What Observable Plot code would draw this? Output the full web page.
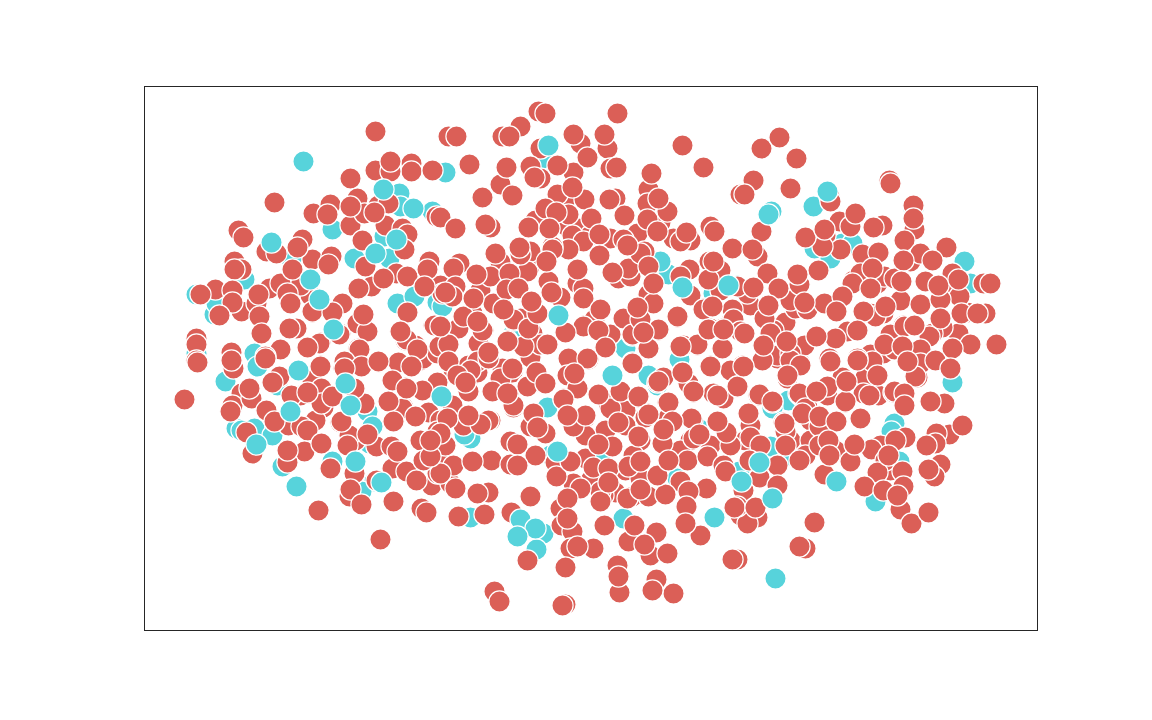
<!DOCTYPE html>
<html><head><meta charset="utf-8">
<script src="https://cdn.jsdelivr.net/npm/d3@7"></script>
<script src="https://cdn.jsdelivr.net/npm/@observablehq/plot@0.6"></script>
<style>html,body{margin:0;padding:0;background:#fff}svg{display:block}</style>
</head><body><div id="chart"></div>
<script>
const tealUnder = [[196,294],[214,314],[216,303],[244,279],[254,353],[196,353],[332,229],[291,259],[389,258],[354,258],[384,236],[399,193],[400,206],[432,211],[397,303],[414,296],[437,302],[225,381],[277,385],[257,366],[367,411],[372,426],[369,443],[236,428],[241,430],[254,428],[272,435],[282,466],[332,461],[374,481],[361,491],[542,158],[445,172],[513,333],[713,293],[668,274],[660,261],[625,348],[679,359],[442,306],[648,375],[657,385],[547,407],[470,438],[464,434],[698,428],[550,455],[600,458],[677,478],[470,517],[623,518],[543,533],[536,549],[771,211],[813,206],[913,209],[814,248],[842,243],[852,243],[830,258],[964,261],[970,283],[737,285],[952,382],[788,400],[772,408],[894,423],[891,431],[770,446],[790,455],[899,461],[739,471],[875,501]];
const redFill = [
[333,312],[312,312],[340,333],[308,347],[320,342],[358,348],[378,362],[320,365],[345,362],[343,368],[360,366],[312,380],[322,388],[332,396],[307,393],[364,403],[323,407],[340,422],[392,380],[388,401],[405,387],[403,407],[393,421],[415,416],[410,365],[420,360],[398,362],[400,331],[405,340],[415,345],[418,350],[423,358],[433,325],[458,328],[448,345],[442,347],[448,362],[453,370],[437,353],[467,382],[468,365],[477,372],[437,382],[422,390],[428,412],[440,420],[452,405],[468,415],[482,423],[490,420],[492,391],[508,393],[513,407],[502,368],[512,372],[500,378],[527,385],[536,372],[543,383],[483,330],[472,313],[503,310],[513,320],[488,353],[478,342],[507,340],[525,345],[540,343],[532,333],[532,305],[520,318],[530,357],
[637,307],[650,303],[677,317],[703,308],[644,332],[632,335],[658,330],[648,348],[632,362],[594,320],[599,330],[605,347],[583,325],[600,310],[565,332],[732,318],[742,332],[722,328],[710,328],[697,345],[722,348],[710,365],[742,365],[732,370],[683,345],[682,372],[688,383],[693,392],[657,382],[663,377],[667,402],[737,387],[723,398],[713,393],[758,395],[772,402],[784,422],[748,413],[763,345],[785,340],[785,322],[767,307],[792,358],[777,358],[773,330],[795,308],[787,375],[800,395],[573,373],[588,359],[570,360],[577,388],[563,398],[567,416],[598,394],[620,392],[638,397],[608,403],[618,422],[585,417],[625,410],[648,413],[645,417],[663,422],[668,417],[692,420],[717,422],[750,423],
[853,280],[950,293],[967,312],[883,313],[900,300],[903,325],[958,333],[933,333],[922,358],[908,360],[800,363],[872,355],[883,353],[777,355],[865,377],[842,377],[798,393],[827,395],[845,402],[867,395],[878,395],[893,392],[917,377],[863,393],[787,378],[807,407],[810,420],[783,422],
[607,480],[625,470],[640,478],[615,492],[603,495],[590,480],[555,462],[640,440],[625,425],[605,430],[585,435],[690,440],[680,450],[710,445],[745,440],[730,445],[790,440],[810,440],[805,455],[835,450],[890,470],[880,445],
[535,220],[565,225],[578,228],[590,235],[660,222],[690,240],[720,270],[790,300],[750,305],[720,290],[690,295],[480,290],[500,262],[530,265],[440,285],[310,295],[300,285],[300,395],[315,420],[355,440],[445,465],[420,440],[385,225],[378,205],[350,225]
];
const red = [
[375,131],[411,163],[411,171],[375,170],[432,170],[390,171],[350,178],[274,202],[238,230],[313,213],[330,204],[357,198],[364,213],[436,216],[402,228],[407,234],[404,249],[362,240],[302,239],[266,251],[276,253],[234,261],[241,269],[312,259],[331,256],[396,273],[407,276],[429,261],[371,286],[215,289],[241,311],[256,303],[269,288],[280,283],[287,293],[259,316],[312,311],[342,303],[357,323],[367,331],[434,325],[442,293],[296,328],[406,339],[417,349],[196,338],[196,344],[280,349],[319,343],[359,349],[344,361],[377,361],[339,334],[439,346],
[279,376],[241,393],[232,405],[230,411],[251,398],[288,425],[301,426],[307,430],[291,395],[321,388],[321,403],[320,366],[361,366],[378,361],[392,380],[411,366],[402,408],[364,403],[354,388],[349,435],[347,445],[376,446],[304,451],[252,453],[246,432],[354,473],[349,496],[421,508],[391,446],[392,468],[406,471],[431,485],[437,473],[423,460],[437,431],[376,480],
[538,111],[448,136],[502,136],[520,126],[580,143],[607,148],[540,148],[540,178],[530,166],[573,172],[610,168],[500,184],[512,195],[566,198],[557,194],[584,199],[648,189],[647,203],[667,211],[615,198],[440,217],[490,227],[545,208],[568,214],[528,227],[572,235],[610,238],[583,241],[568,249],[637,233],[647,219],[623,239],[644,251],[673,238],[680,241],[710,226],[732,248],[495,253],[530,251],[552,246],[527,271],[520,254],[459,263],[453,268],[490,276],[455,286],[452,296],[493,303],[513,319],[560,297],[548,281],[577,283],[583,288],[618,278],[630,276],[628,268],[640,253],[648,294],[653,303],[689,269],[680,276],[709,261],[708,279],[703,309],[677,316],[594,319],[583,326],[610,334],[623,318],[632,334],[658,329],[648,348],[640,319],[565,332],[540,344],[523,346],[528,328],[537,313],[507,341],[478,343],[458,328],[463,316],[448,344],[440,326],[568,358],[587,358],[697,344],[708,329],[732,309],[733,319],[740,331],[680,346],
[448,361],[477,361],[488,358],[470,370],[457,375],[468,391],[512,368],[513,405],[527,386],[567,375],[577,388],[573,426],[530,426],[545,433],[533,413],[585,415],[610,408],[668,402],[658,381],[632,363],[688,383],[693,391],[730,370],[737,386],[723,398],[691,418],[726,432],[693,438],[672,421],[662,443],[488,420],[463,425],[447,418],[445,445],[440,433],[510,441],[491,460],[510,464],[535,455],[450,483],[453,465],[440,473],[455,488],[488,492],[511,512],[530,496],[585,458],[612,446],[593,467],[608,468],[633,455],[573,483],[600,491],[600,501],[560,508],[561,525],[572,531],[632,496],[627,498],[648,496],[687,460],[707,456],[680,481],[665,494],[706,488],[723,465],[700,535],[740,515],[656,532],[628,541],[650,555],[667,553],[570,548],[593,548],[617,565],[619,592],[656,579],[673,593],[494,591],[565,604],
[761,148],[796,158],[753,180],[790,188],[889,180],[829,196],[830,201],[839,221],[882,225],[850,226],[825,235],[840,249],[822,246],[914,229],[904,240],[761,231],[757,256],[862,254],[878,252],[860,273],[852,283],[877,283],[884,276],[799,284],[767,273],[747,293],[737,286],[910,261],[920,253],[946,247],[894,278],[925,281],[952,273],[959,296],[920,304],[940,299],[764,318],[807,309],[824,303],[842,296],[870,313],[875,316],[885,306],[847,331],[835,338],[804,345],[770,333],[790,353],[890,334],[904,326],[942,327],[932,333],[929,336],[961,313],[985,313],[983,283],[996,344],[970,344],[894,349],[952,348],[920,349],[870,354],[884,344],[829,358],
[762,360],[790,360],[800,365],[787,375],[872,361],[920,363],[915,376],[935,360],[737,386],[759,394],[799,393],[827,386],[845,401],[869,395],[894,391],[904,393],[944,403],[949,434],[936,433],[750,425],[785,431],[805,408],[802,413],[819,426],[750,437],[785,445],[819,445],[871,449],[850,461],[777,465],[935,443],[905,437],[885,460],[940,464],[934,476],[824,474],[877,472],[902,471],[864,486],[903,486],[900,509],[911,523],[759,477],[777,485],[743,490],[757,517],[747,523],[737,506],[805,548],[737,559],
[390,161],[243,237],[327,214],[350,206],[388,203],[374,212],[297,247],[234,269],[292,269],[328,264],[365,266],[383,278],[427,269],[424,286],[358,288],[200,294],[232,290],[232,302],[219,315],[258,294],[290,303],[332,312],[363,314],[407,312],[289,328],[261,333],[400,331],[196,360],[231,352],[265,356],[307,347],[197,362],[184,399],[233,368],[265,358],[231,360],[272,382],[249,388],[266,410],[274,421],[307,392],[332,396],[344,368],[406,388],[388,401],[415,416],[393,421],[341,421],[367,434],[321,443],[287,462],[287,450],[330,468],[350,489],[361,504],[318,510],[393,501],[380,539],[426,512],[397,451],[416,480],[430,456],[430,440],
[545,113],[617,113],[456,136],[509,136],[573,134],[604,134],[682,145],[469,164],[506,167],[534,177],[557,165],[587,157],[616,167],[703,167],[482,197],[572,187],[651,173],[658,198],[609,199],[624,215],[740,194],[455,228],[485,224],[556,212],[549,228],[591,218],[599,234],[599,255],[657,231],[627,245],[686,232],[714,231],[519,247],[552,249],[546,261],[476,274],[509,273],[445,292],[473,298],[506,289],[518,288],[503,309],[531,301],[551,292],[577,269],[583,298],[612,272],[648,266],[653,283],[637,307],[713,261],[712,306],[600,309],[598,330],[605,347],[643,332],[547,344],[488,352],[482,330],[477,321],[722,348],[723,329],
[465,382],[492,391],[507,393],[536,372],[545,383],[574,373],[563,399],[567,415],[537,427],[598,394],[620,391],[638,396],[618,422],[638,436],[648,414],[682,372],[710,366],[717,395],[717,421],[699,434],[663,429],[480,424],[468,415],[472,461],[517,444],[517,465],[556,476],[570,461],[598,444],[628,466],[640,461],[580,488],[608,482],[567,498],[567,518],[640,489],[657,475],[668,460],[688,491],[686,506],[725,471],[685,523],[732,559],[734,507],[458,516],[484,514],[477,493],[604,525],[634,525],[644,544],[577,546],[527,560],[565,567],[618,576],[652,590],[499,601],[562,605],
[779,137],[744,194],[890,183],[855,213],[873,227],[805,237],[824,229],[913,205],[913,218],[752,249],[872,268],[870,288],[818,270],[797,274],[778,288],[753,287],[903,260],[932,260],[901,281],[938,285],[958,279],[768,305],[804,302],[836,311],[863,311],[857,330],[816,336],[786,341],[763,345],[744,333],[914,325],[940,318],[977,313],[990,283],[902,346],[857,358],
[743,366],[830,361],[857,360],[877,375],[907,361],[950,368],[846,381],[772,401],[816,391],[904,405],[930,401],[962,425],[748,413],[784,423],[819,416],[836,421],[860,418],[760,445],[828,440],[854,444],[829,455],[799,460],[749,460],[926,445],[895,440],[888,455],[928,469],[883,490],[897,495],[928,512],[755,507],[814,522],[799,546]
];
const tealOver = [[548,145],[303,161],[271,242],[375,253],[396,239],[310,279],[319,299],[333,329],[413,208],[383,189],[350,405],[345,383],[298,370],[290,411],[256,444],[296,486],[355,461],[381,482],[441,396],[558,315],[557,451],[682,287],[728,285],[768,214],[827,191],[520,519],[535,528],[517,536],[612,375],[714,517],[775,578],[759,462],[772,498],[836,481],[741,481]];

const xDomain = [144, 1037];
const yDomain = [630, 86];
const redColor = "#db5f57";
const tealColor = "#57d3db";
const dots = (pts, fill) => Plot.dot(pts, {x: d => d[0], y: d => d[1], r: 10.6, fill, stroke: "white", strokeWidth: 1.2});

const chart = Plot.plot({
  width: 1152, height: 720,
  marginLeft: 144, marginRight: 115, marginTop: 86, marginBottom: 90,
  x: {domain: xDomain, axis: null},
  y: {domain: yDomain, axis: null},
  marks: [
    dots(tealUnder, tealColor),
    dots(redFill, redColor),
    dots(red, redColor),
    dots(tealOver, tealColor),
    Plot.frame({stroke: "#262626", strokeWidth: 1})
  ]
});
document.getElementById("chart").appendChild(chart);
</script></body></html>
